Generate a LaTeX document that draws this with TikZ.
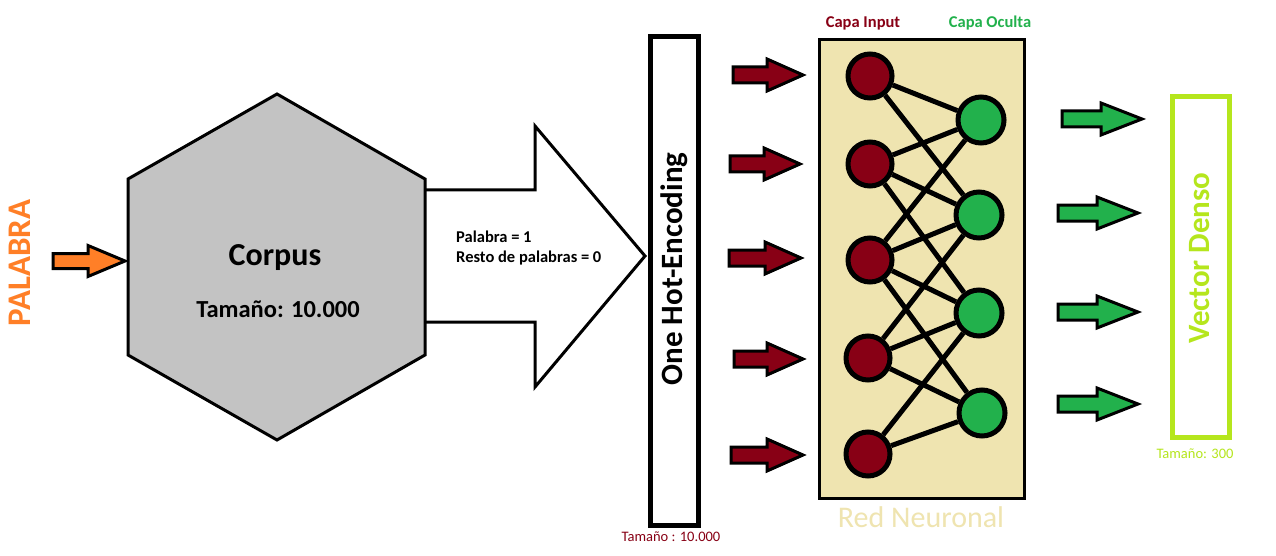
\documentclass[tikz,border=0pt]{standalone}
\usepackage{fontspec}
\setmainfont{Carlito}
\definecolor{nnred}{HTML}{880015}
\definecolor{nngreen}{HTML}{22B14C}
\definecolor{nnorange}{HTML}{FF7F27}
\definecolor{nnlime}{HTML}{B5E61D}
\definecolor{nnbeige}{HTML}{EFE4B0}
\definecolor{nngray}{HTML}{C3C3C3}
\newcommand{\barrow}[7]{% #1 style, #2 tip x, #3 tip y, #4 length, #5 head length, #6 shaft half, #7 head half
  \draw[#1] (#2-#4,#3-#6) -- (#2-#5,#3-#6) -- (#2-#5,#3-#7) -- (#2,#3) -- (#2-#5,#3+#7) -- (#2-#5,#3+#6) -- (#2-#4,#3+#6) -- cycle;}
\tikzset{
  inputnode/.style={circle, draw=black, line width=5pt, fill=nnred, minimum size=44pt, inner sep=0pt},
  hiddennode/.style={circle, draw=black, line width=5pt, fill=nngreen, minimum size=46pt, inner sep=0pt},
  link/.style={line width=5pt, draw=black},
  redarrow/.style={fill=nnred, draw=black, line width=3pt, line join=miter},
  greenarrow/.style={fill=nngreen, draw=black, line width=3pt, line join=miter},
  orangearrow/.style={fill=nnorange, draw=black, line width=3pt, line join=miter},
  lbl/.style={inner sep=0pt, text=black},
}
\begin{document}
\begin{tikzpicture}[x=1pt,y=-1pt]
\useasboundingbox (0,0) rectangle (1276,556);
\fill[white] (0,0) rectangle (1276,556);

% PALABRA + orange arrow
\node[lbl, rotate=90, text=nnorange, font=\fontsize{33}{38}\selectfont\bfseries] (palabra) at (20,263) {PALABRA};
\barrow{orangearrow}{125}{261}{72}{37}{7.5}{15.5}

% big white arrow (behind hexagon)
\draw[line width=3pt, fill=white, line join=miter] (420,190) -- (535,190) -- (535,126) -- (645,256) -- (535,387) -- (535,322) -- (420,322);

% hexagon (corpus)
\draw[line width=3pt, fill=nngray, line join=miter] (128,179) -- (277,94) -- (425,179) -- (425,355) -- (277,440) -- (128,355) -- cycle;
\node[lbl, font=\fontsize{32}{38}\selectfont\bfseries] (corpus) at (275,258) {Corpus};
\node[lbl, font=\fontsize{24.5}{28}\selectfont\bfseries] (tam1) at (278,309) {Tamaño: 10.000};

% arrow text
\node[lbl, anchor=west, font=\fontsize{16.5}{19}\selectfont\bfseries] (t1) at (456,237) {Palabra = 1};
\node[lbl, anchor=west, font=\fontsize{16.5}{19}\selectfont\bfseries] (t2) at (456,258) {Resto de palabras = 0};

% one hot encoding bar
\draw[line width=5pt, fill=white] (650,37) rectangle (698,525);
\node[lbl, rotate=90, font=\fontsize{31}{36}\selectfont\bfseries] (ohe) at (674,269) {One Hot-Encoding};
\node[lbl, text=nnred, font=\fontsize{14.5}{16}\selectfont] (tam2) at (671,537) {Tamaño : 10.000};

% red arrows
\barrow{redarrow}{803}{75}{70}{36}{8}{16}
\barrow{redarrow}{800}{164}{70}{36}{8}{16}
\barrow{redarrow}{801}{258}{72}{36}{8}{16}
\barrow{redarrow}{803}{359}{69}{36}{8}{16}
\barrow{redarrow}{803}{455}{72}{36}{8}{16}

% neural network box
\draw[line width=3pt, fill=nnbeige] (819,40) rectangle (1024,498);
\node[lbl, text=nnred, font=\fontsize{16.5}{20}\selectfont\bfseries] (capain) at (863,23) {Capa Input};
\node[lbl, text=nngreen, font=\fontsize{16.5}{20}\selectfont\bfseries] (capaoc) at (990,23) {Capa Oculta};
\node[lbl, text=nnbeige, font=\fontsize{30}{36}\selectfont] (red) at (921,517) {Red Neuronal};

\node[inputnode] (i1) at (870,76) {};
\node[inputnode] (i2) at (870,164) {};
\node[inputnode] (i3) at (870,260) {};
\node[inputnode] (i4) at (868,358) {};
\node[inputnode] (i5) at (868,454) {};
\node[hiddennode] (h1) at (981,120) {};
\node[hiddennode] (h2) at (979,215) {};
\node[hiddennode] (h3) at (979,313) {};
\node[hiddennode] (h4) at (982,413) {};

\draw[link] (i1) -- (h1); \draw[link] (i1) -- (h2);
\draw[link] (i2) -- (h1); \draw[link] (i2) -- (h2); \draw[link] (i2) -- (h3);
\draw[link] (i3) -- (h1); \draw[link] (i3) -- (h2); \draw[link] (i3) -- (h3); \draw[link] (i3) -- (h4);
\draw[link] (i4) -- (h2); \draw[link] (i4) -- (h3); \draw[link] (i4) -- (h4);
\draw[link] (i5) -- (h3); \draw[link] (i5) -- (h4);

% green arrows
\barrow{greenarrow}{1142}{119}{80}{41}{8}{16}
\barrow{greenarrow}{1138}{213}{80}{41}{8}{16}
\barrow{greenarrow}{1138}{312}{80}{41}{8}{16}
\barrow{greenarrow}{1138}{404}{80}{41}{8}{16}

% vector denso
\draw[line width=5pt, draw=nnlime, fill=white] (1172,97) rectangle (1229,437);
\node[lbl, rotate=90, text=nnlime, font=\fontsize{31}{36}\selectfont\bfseries] (vd) at (1200,258) {Vector Denso};
\node[lbl, text=nnlime, font=\fontsize{14.5}{16}\selectfont] (tam3) at (1195,454) {Tamaño: 300};
\end{tikzpicture}
\end{document}
